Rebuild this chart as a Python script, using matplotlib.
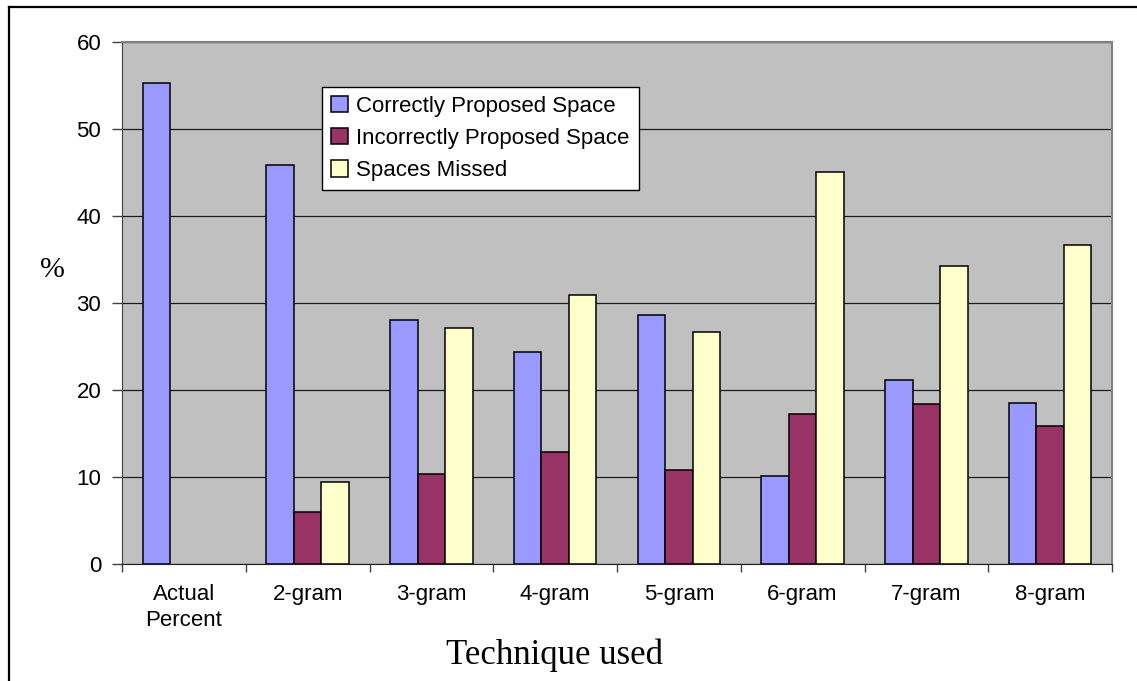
import numpy as np
import matplotlib
matplotlib.use("Agg")
import matplotlib.pyplot as plt
from matplotlib.lines import Line2D

# values (percent)
categories = ["Actual\nPercent", "2-gram", "3-gram", "4-gram", "5-gram", "6-gram", "7-gram", "8-gram"]
correct = [55.3, 45.9, 28.0, 24.3, 28.6, 10.1, 21.1, 18.5]
incorrect = [np.nan, 5.9, 10.3, 12.8, 10.8, 17.2, 18.3, 15.8]
missed = [np.nan, 9.4, 27.1, 30.9, 26.6, 45.0, 34.2, 36.6]
series_names = ["Correctly Proposed Space", "Incorrectly Proposed Space", "Spaces Missed"]
colors = ["#9999FF", "#993366", "#FFFFCC"]

sans = "Liberation Sans"
serif = "Liberation Serif"

W, H = 1137, 681
fig = plt.figure(figsize=(W / 100, H / 100), dpi=100)
fig.patch.set_facecolor("white")

ax = fig.add_axes([122 / W, 1 - 563.5 / H, (1112 - 122) / W, (563.5 - 42) / H])
ax.set_facecolor("#C0C0C0")

x = np.arange(len(categories))
bw = 1 / 4.5
for k, vals in enumerate([correct, incorrect, missed]):
    ax.bar(x + (k - 1) * bw, vals, bw, color=colors[k], edgecolor="black",
           linewidth=1.1, label=series_names[k], zorder=3)

ax.set_xlim(-0.5, len(categories) - 0.5)
ax.set_ylim(0, 60)
ax.set_yticks(np.arange(0, 61, 10))
ax.yaxis.grid(True, color="#1a1a1a", linewidth=0.9, zorder=1)
ax.set_axisbelow(True)

ax.set_xticks(x)
ax.set_xticklabels(categories, fontfamily=sans, fontsize=16, linespacing=1.3)
ax.set_xticks(np.arange(-0.5, len(categories), 1), minor=True)
ax.tick_params(axis="x", which="major", length=0, pad=15)
ax.tick_params(axis="x", which="minor", length=6, width=1, color="#404040", direction="out")
ax.tick_params(axis="y", length=7, width=1, color="#404040", pad=8)
for lab in ax.get_yticklabels():
    lab.set_fontfamily(sans)
    lab.set_fontsize(16)

for s in ["top", "right"]:
    ax.spines[s].set_color("#808080")
    ax.spines[s].set_linewidth(1.5)
ax.spines["left"].set_color("#404040")
ax.spines["bottom"].set_color("#202020")

leg = ax.legend(loc="upper left", bbox_to_anchor=(322 / W, 1 - 87 / H),
                bbox_transform=fig.transFigure, prop={"family": sans, "size": 16},
                frameon=True, fancybox=False, edgecolor="black", framealpha=1,
                handlelength=0.75, handleheight=0.75, handletextpad=0.4,
                labelspacing=0.5, borderpad=0.4, borderaxespad=0)
leg.get_frame().set_linewidth(1.0)
leg.set_zorder(5)

fig.text(52 / W, 1 - 270 / H, "%", fontfamily=serif, fontsize=21.5, ha="center", va="center")
fig.text(555 / W, 1 - 655 / H, "Technique used", fontfamily=serif, fontsize=25, ha="center", va="center")

# outer frame (top and left edges visible)
fig.add_artist(Line2D([9 / W, 1.0], [1 - 7 / H, 1 - 7 / H], transform=fig.transFigure, color="black", linewidth=1.6))
fig.add_artist(Line2D([9 / W, 9 / W], [1 - 7 / H, 0], transform=fig.transFigure, color="black", linewidth=1.6))

fig.savefig("out.png", dpi=100, facecolor="white")
